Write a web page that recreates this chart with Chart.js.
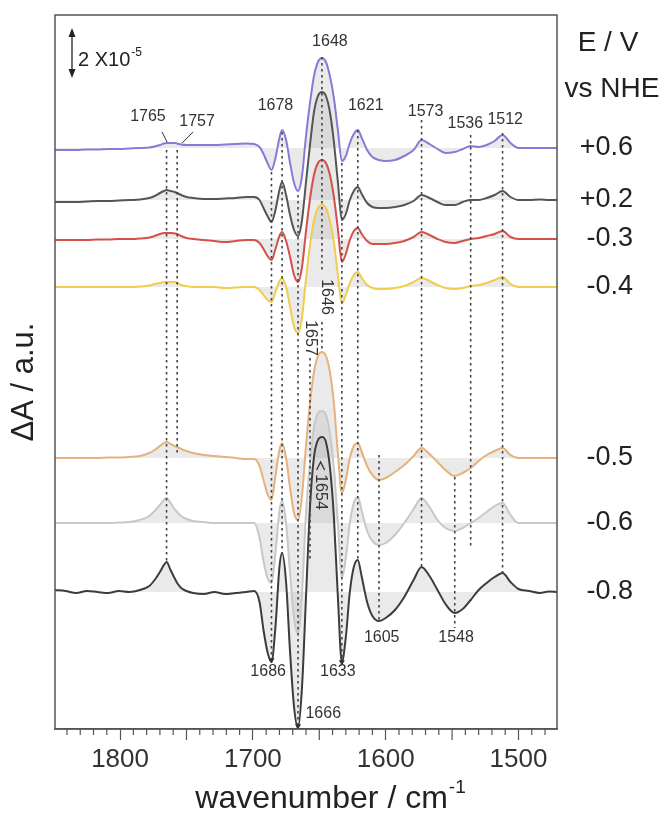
<!DOCTYPE html>
<html>
<head>
<meta charset="utf-8">
<script src="https://cdn.jsdelivr.net/npm/chart.js@4.4.0/dist/chart.umd.min.js"></script>
<style>
  html, body { margin: 0; padding: 0; background: #fff; }
  #wrap { width: 672px; height: 818px; }
</style>
</head>
<body>
<div id="wrap"><canvas id="spectraChart" width="672" height="818"></canvas></div>
<script>
// wavenumber grid shared by every spectrum (cm-1)
const wavenumbers = [
  1849, 1841, 1833, 1825, 1817, 1809, 1801, 1793, 1785, 1778,
  1774, 1770, 1767, 1765, 1762, 1759, 1757, 1754, 1750,
  1745, 1737, 1729, 1721, 1713, 1705, 1699,
  1695, 1692, 1689, 1686, 1683, 1680, 1678, 1675, 1672, 1669,
  1666, 1663, 1660, 1657, 1654, 1651, 1648, 1645, 1642, 1639,
  1636, 1633, 1630, 1627, 1624, 1621, 1618, 1614, 1610, 1605,
  1600, 1593, 1586, 1579, 1573, 1567, 1561, 1555, 1548, 1542,
  1536, 1530, 1524, 1518, 1512, 1506, 1500,
  1492, 1484, 1477, 1471
];

// difference spectra, dA in units of 1e-6
const dA_p06 = [
  -0.8, -0.8, -0.8, -0.6, -0.6, -0.4, -0.4, -0.2, 0, 0.2,
  0.6, 1.2, 1.8, 2, 2, 2, 1.8, 1.4, 1.2,
  1.2, 1.2, 1.2, 1.4, 1.6, 1.8, 1.6,
  0.4, -2.4, -6, -8.8, -4, 4, 7.2, 3.2, -6, -14,
  -17.2, -11.2, 4.8, 18, 28.8, 34.4, 36, 34.4, 28.8, 20,
  7.2, -5.2, -3.2, 2, 5.6, 7.2, 4, -0.8, -3.6, -4.8,
  -5.2, -4.8, -3.2, -0.8, 3.2, 1.6, -0.4, -2, -1.6, -0.4,
  0.8, 0.4, 1.2, 2.8, 5.2, 2, 0,
  0, 0, 0, 0
];
const dA_p02 = [
  -0.8, -0.8, -0.8, -0.6, -0.4, -0.4, -0.2, 0, 0.2, 0.8,
  1.6, 2.8, 3.6, 4, 3.6, 3.2, 2.8, 2, 1.2,
  0.8, 0.4, 0.4, 0.6, 0.8, 1.2, 1.2,
  0, -3.2, -6.4, -8.8, -4, 4, 7.2, 2, -6, -12,
  -14.4, -8, 7.2, 22, 35.2, 41.6, 43.2, 41.6, 35.2, 23.2,
  7.2, -8, -5.6, 0, 3.6, 5.2, 2.4, -1.2, -2.8, -3.2,
  -3.2, -2.8, -2, -0.4, 2, 0.8, -0.8, -2, -2, -0.8,
  0, 0, 0.8, 2, 3.6, 1.2, 0,
  0, 0.2, 0, 0
];
const dA_m03 = [
  -0.4, -0.4, -0.4, -0.4, -0.2, -0.2, 0, 0, 0.2, 0.6,
  1.2, 2, 2.4, 2.4, 2.4, 2.2, 2, 1.2, 0.4,
  0, -0.4, -0.8, -1.2, -0.8, -0.4, -0.4,
  -1.6, -4, -6.8, -8.4, -4, 1.2, 2.8, -0.8, -7.2, -14.4,
  -17.2, -11.2, 3.2, 16, 25.6, 30.4, 31.6, 30.4, 25.6, 16.8,
  4, -9.2, -6, -0.4, 3.2, 4.4, 2, -0.8, -2, -2,
  -2, -1.6, -0.8, 0.8, 2.8, 1.6, 0, -1.2, -1.6, -0.8,
  0, 0.4, 1.2, 2, 3.2, 0.8, 0,
  0, 0, 0, 0
];
const dA_m04 = [
  0, 0, 0, 0, 0, 0, 0, 0, 0.2, 0.6,
  1.2, 1.6, 2, 2, 2, 2, 1.6, 0.8, 0.4,
  0, 0, 0, -0.4, -0.2, 0, 0,
  -1.2, -3.2, -5.2, -6, -2, 2.4, 3.6, 0, -8, -16,
  -18.4, -12, 3.2, 16.8, 26.4, 31.6, 32.8, 31.6, 26.4, 18,
  4.8, -6.4, -3.2, 1.6, 4.8, 6, 3.6, 0.8, -0.4, -0.8,
  -0.8, -0.4, 0.4, 2, 3.6, 2.4, 0.8, -0.4, -0.8, -0.4,
  0.4, 0.8, 1.6, 2.8, 4, 1.2, 0,
  0, 0, 0, 0
];
const dA_m05 = [
  0, 0, 0, 0, 0, 0.2, 0.2, 0.4, 0.8, 2,
  3.2, 4.8, 6, 6.4, 5.6, 4.8, 4.4, 3.6, 2.8,
  2, 1.2, 0.8, 0.4, 0, -0.4, -0.4,
  -3.2, -8.8, -14.4, -16.8, -7.2, 3.2, 6, 0, -12, -22,
  -24.8, -15.2, 4.8, 22, 34.4, 40.8, 42.4, 40.8, 34.4, 22,
  2, -14, -8.8, 0, 4.8, 6, 2.4, -3.2, -6.8, -8.8,
  -8, -5.6, -2.8, 0.8, 4, 1.6, -1.6, -4.8, -7.2, -6,
  -4, -1.2, 1.2, 2.8, 4, 1.2, 0,
  0, 0, 0, 0
];
const dA_m06 = [
  0, 0, 0, 0, 0, 0, 0.2, 0.4, 1.2, 2.8,
  4.8, 7.2, 9.2, 10, 8, 5.6, 4.4, 2.8, 1.6,
  0.8, 0.4, 0, 0, 0, 0, 0,
  -6, -15.2, -22, -24, -12, 4.8, 8.8, 0, -20, -38,
  -44, -28, 4, 24, 38, 44, 44.8, 43.2, 36, 22,
  0, -22, -14, 0, 8, 10.4, 4.8, -3.2, -7.2, -8.8,
  -8, -4.8, 0, 5.6, 10, 6.4, 1.2, -2, -3.2, -2,
  0, 2, 4.4, 6.8, 8, 3.2, 0,
  0, 0, 0, 0
];
const dA_m08 = [
  0.8, 0.4, -0.4, 0.4, 0, -0.4, 0.4, 0, 0.8, 2.4,
  4.8, 8, 10.8, 12, 8.8, 5.6, 3.6, 1.6, 0.4,
  -0.4, -0.8, 0, -0.8, -0.4, 0, 0.4,
  -4, -15.2, -24, -28, -14, 10, 15.6, 4, -24, -46,
  -54.4, -38, -2, 34, 54, 60.8, 62, 60, 50, 30,
  -2, -28, -18, 0, 10, 12.8, 6, -4, -9.6, -11.6,
  -10.4, -7.2, -2, 4.8, 10, 6.4, 0.8, -4.8, -8.4, -6.8,
  -3.2, 0.8, 3.6, 6, 7.6, 4, 1.2,
  0.4, -0.4, 0.2, 0
];

const potentials = ['+0.6', '+0.2', '-0.3', '-0.4', '-0.5', '-0.6', '-0.8'];
const spectra = [dA_p06, dA_p02, dA_m03, dA_m04, dA_m05, dA_m06, dA_m08];
// vertical stacking offsets, same units
const offsets = [232.4, 211.6, 196, 176.8, 108.4, 82.4, 54.8];
const lineColors = ['#8c78d8', '#555555', '#d4504a', '#f0cc50', '#e6b27c', '#c8c8c8', '#3c3c3c'];

// dashed guides: wavenumber, upper and lower end (y units)
const guides = [
  { wn: 1765, from: 231.6, to: 66.8 },
  { wn: 1757, from: 231.6, to: 109.6 },
  { wn: 1686, from: 222.8, to: 27.6, arrow: true },
  { wn: 1678, from: 238.8, to: 70.4 },
  { wn: 1666, from: 213.6, to: 1.2, arrow: true },
  { wn: 1657, from: 148.4, to: 67.6 },
  { wn: 1648, from: 268.8, to: 183 },
  { wn: 1648, from: 162.8, to: 150.8 },
  { wn: 1633, from: 226.4, to: 26.8, arrow: true },
  { wn: 1621, from: 239.6, to: 67.6 },
  { wn: 1605, from: 109.6, to: 42.8 },
  { wn: 1573, from: 243.6, to: 64.8 },
  { wn: 1548, from: 100.8, to: 40.4 },
  { wn: 1536, from: 237.6, to: 72.4 },
  { wn: 1512, from: 238.4, to: 62.4 }
];

const peakLabels = [
  { text: '1765', wn: 1779, v: 244.8 },
  { text: '1757', wn: 1742, v: 242.8 },
  { text: '1678', wn: 1683, v: 249.2 },
  { text: '1648', wn: 1642, v: 274.8 },
  { text: '1621', wn: 1615, v: 249.2 },
  { text: '1573', wn: 1570, v: 246.8 },
  { text: '1536', wn: 1540, v: 242 },
  { text: '1512', wn: 1510, v: 243.6 },
  { text: '1686', wn: 1688.5, v: 22.8 },
  { text: '1633', wn: 1636, v: 22.8 },
  { text: '1666', wn: 1647, v: 6 },
  { text: '1605', wn: 1603, v: 36.4 },
  { text: '1548', wn: 1547, v: 36.4 }
];
const sideLabels = [
  { text: '1646', wn: 1645, v: 172.8 },
  { text: '1657', wn: 1657, v: 156.4 },
  { text: '1654', wn: 1649, v: 94.8 }
];

const FONT = '"Liberation Sans", Arial, sans-serif';

const traceSets = spectra.map((vals, i) => ({
  label: potentials[i],
  data: wavenumbers.map((w, j) => ({ x: w, y: offsets[i] + vals[j] })),
  borderColor: lineColors[i],
  borderWidth: 2,
  pointRadius: 0,
  cubicInterpolationMode: 'monotone',
  fill: { value: offsets[i] },
  backgroundColor: 'rgba(160,160,160,0.22)',
  order: 1
}));

const guideSets = guides.map(g => ({
  data: [{ x: g.wn, y: g.from }, { x: g.wn, y: g.to }],
  borderColor: '#444',
  borderWidth: 1.6,
  borderDash: [2.5, 3.5],
  tension: 0,
  fill: false,
  pointRadius: g.arrow ? [0, 3.5] : 0,
  pointStyle: 'triangle',
  rotation: 180,
  pointBackgroundColor: '#333',
  pointBorderWidth: 0,
  order: 0
}));

const overlay = {
  id: 'overlay',
  afterDraw(chart) {
    const { ctx, chartArea: a, scales: { x, y } } = chart;
    ctx.save();

    // frame round the plot
    ctx.strokeStyle = '#555';
    ctx.lineWidth = 1.5;
    ctx.setLineDash([]);
    ctx.strokeRect(a.left, a.top, a.right - a.left, a.bottom - a.top);

    // minor ticks every 10 cm-1, longer at 50
    ctx.lineWidth = 1.2;
    for (let w = 1480; w <= 1840; w += 10) {
      if (w % 100 === 0) continue;
      const px = x.getPixelForValue(w);
      const len = w % 50 === 0 ? 11 : 6;
      ctx.beginPath();
      ctx.moveTo(px, a.bottom);
      ctx.lineTo(px, a.bottom + len);
      ctx.stroke();
    }

    // scale bar, 2e-5 = 20 units
    const sx = a.left + 17;
    const sTop = a.top + 13;
    const sBot = sTop + (y.getPixelForValue(0) - y.getPixelForValue(20));
    ctx.strokeStyle = '#222';
    ctx.fillStyle = '#222';
    ctx.lineWidth = 1.3;
    ctx.beginPath();
    ctx.moveTo(sx, sTop + 4);
    ctx.lineTo(sx, sBot - 4);
    ctx.stroke();
    [[sTop, 1], [sBot, -1]].forEach(([yy, d]) => {
      ctx.beginPath();
      ctx.moveTo(sx, yy);
      ctx.lineTo(sx - 3.5, yy + d * 9);
      ctx.lineTo(sx + 3.5, yy + d * 9);
      ctx.closePath();
      ctx.fill();
    });
    ctx.font = '20px ' + FONT;
    ctx.textAlign = 'left';
    ctx.textBaseline = 'alphabetic';
    ctx.fillText('2 X10', sx + 6, sTop + 38);
    const w2 = ctx.measureText('2 X10').width;
    ctx.font = '12px ' + FONT;
    ctx.fillText('-5', sx + 7 + w2, sTop + 28);

    // peak labels
    ctx.fillStyle = '#333';
    ctx.font = '16px ' + FONT;
    ctx.textAlign = 'center';
    ctx.textBaseline = 'middle';
    peakLabels.forEach(l => {
      ctx.fillText(l.text, x.getPixelForValue(l.wn), y.getPixelForValue(l.v));
    });
    sideLabels.forEach(l => {
      ctx.save();
      ctx.translate(x.getPixelForValue(l.wn), y.getPixelForValue(l.v));
      ctx.rotate(Math.PI / 2);
      ctx.fillText(l.text, 0, 0);
      ctx.restore();
    });
    // little arrow above 1654
    const ax = x.getPixelForValue(1649);
    const ay = y.getPixelForValue(94.8) - 30;
    ctx.strokeStyle = '#333';
    ctx.lineWidth = 1.3;
    ctx.beginPath();
    ctx.moveTo(ax - 4, ay + 8);
    ctx.lineTo(ax, ay);
    ctx.lineTo(ax + 4, ay + 8);
    ctx.stroke();

    // leaders for 1765 / 1757
    ctx.lineWidth = 1;
    [[1768.4, 238.8, 1764.6, 234.8], [1745, 238.8, 1753.3, 234.4]].forEach(s => {
      ctx.beginPath();
      ctx.moveTo(x.getPixelForValue(s[0]), y.getPixelForValue(s[1]));
      ctx.lineTo(x.getPixelForValue(s[2]), y.getPixelForValue(s[3]));
      ctx.stroke();
    });

    // potential labels on the right
    ctx.fillStyle = '#222';
    ctx.font = '27px ' + FONT;
    ctx.textAlign = 'right';
    potentials.forEach((p, i) => {
      ctx.fillText(p, 633, y.getPixelForValue(offsets[i]));
    });
    ctx.textAlign = 'center';
    ctx.font = '28px ' + FONT;
    ctx.fillText('E / V', 608, 43);
    ctx.fillText('vs NHE', 612, 89);

    // axis titles
    ctx.font = '32px ' + FONT;
    ctx.textAlign = 'left';
    ctx.textBaseline = 'alphabetic';
    const main = 'wavenumber / cm';
    const mw = ctx.measureText(main).width;
    ctx.font = '19px ' + FONT;
    const sw = ctx.measureText('-1').width;
    const tx = 330 - (mw + sw) / 2;
    ctx.font = '32px ' + FONT;
    ctx.fillText(main, tx, 808);
    ctx.font = '19px ' + FONT;
    ctx.fillText('-1', tx + mw + 1, 793);

    ctx.save();
    ctx.translate(24, 382);
    ctx.rotate(-Math.PI / 2);
    ctx.font = '31px ' + FONT;
    ctx.textAlign = 'center';
    ctx.textBaseline = 'middle';
    ctx.fillText('\u0394A / a.u.', 0, 0);
    ctx.restore();

    ctx.restore();
  }
};

new Chart(document.getElementById('spectraChart'), {
  type: 'line',
  data: { datasets: [...guideSets, ...traceSets] },
  options: {
    responsive: false,
    animation: false,
    devicePixelRatio: 1,
    layout: { padding: { top: 15, right: 115, left: 55, bottom: 0 } },
    plugins: {
      legend: { display: false },
      tooltip: { enabled: false },
      filler: { drawTime: 'beforeDatasetsDraw' }
    },
    scales: {
      x: {
        type: 'linear',
        reverse: true,
        min: 1471,
        max: 1849,
        afterFit(scale) { scale.height = 89; },
        border: { display: true, color: '#555', width: 1.5 },
        grid: { drawOnChartArea: false, drawTicks: true, tickLength: 11, tickColor: '#555', tickWidth: 1.2 },
        ticks: {
          stepSize: 100,
          includeBounds: false,
          maxRotation: 0,
          padding: 4,
          color: '#333',
          font: { family: FONT, size: 26 },
          callback: v => String(v)
        }
      },
      y: { display: false, min: 0, max: 285.6 }
    }
  },
  plugins: [overlay]
});
</script>
</body>
</html>
